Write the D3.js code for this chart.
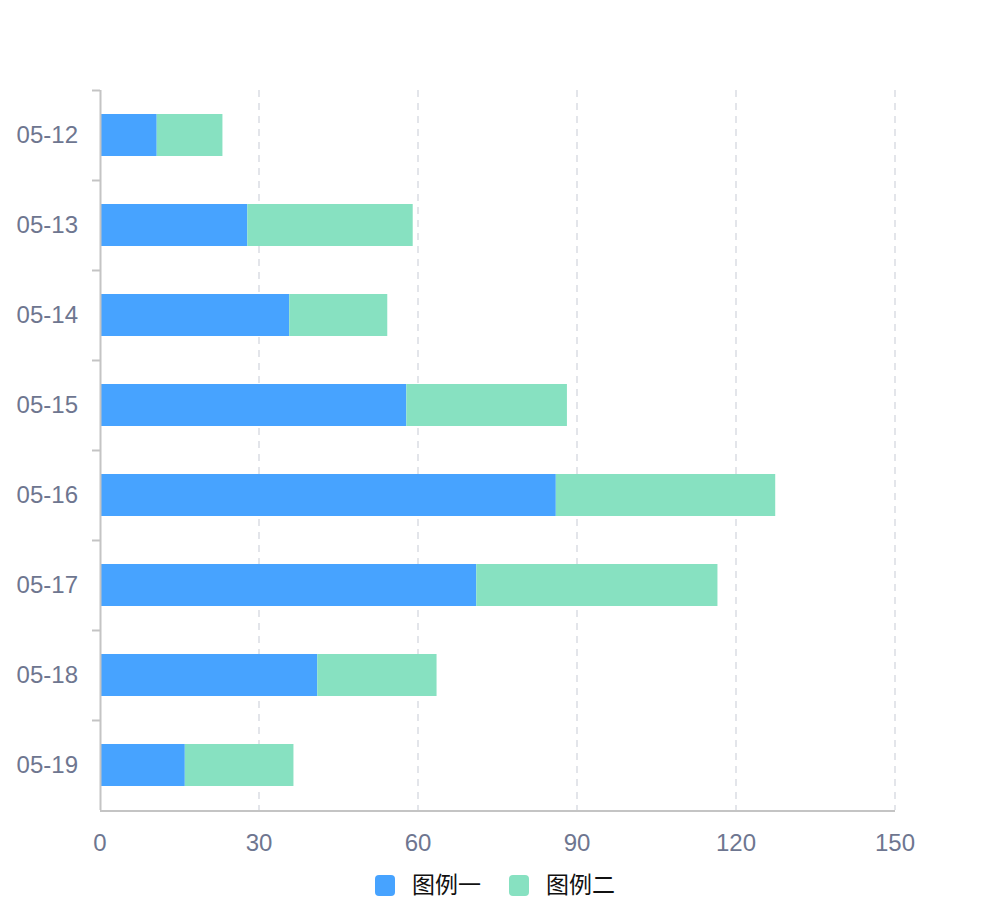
<!DOCTYPE html>
<meta charset="utf-8">
<head>
    <title>Stacked bars</title>
    <script src="https://d3js.org/d3.v7.min.js"></script>
    <style>
        body { margin: 0; background: #ffffff; }
    </style>
</head>
<body>
<svg width="994" height="900"></svg>
<script>
// chart data
var days = ["05-12", "05-13", "05-14", "05-15", "05-16", "05-17", "05-18", "05-19"];
var seriesOne = [10.7, 27.8, 35.7, 57.8, 86, 71, 41, 16];
var seriesTwo = [12.4, 31.2, 18.5, 30.3, 41.4, 45.5, 22.5, 20.5];
var seriesNames = ["图例一", "图例二"];
var xTicks = [0, 30, 60, 90, 120, 150];

var svg = d3.select("svg"),
    margin = {top: 90, right: 99, bottom: 90, left: 100},
    width = +svg.attr("width") - margin.left - margin.right,
    height = +svg.attr("height") - margin.top - margin.bottom,
    g = svg.append("g").attr("transform", "translate(" + margin.left + "," + margin.top + ")");

var labelFont = "'Liberation Sans', Arial, Helvetica, sans-serif";
var labelColor = "#6e7690";
var colors = ["#47a3ff", "#87e1c1"];

var rows = days.map(function(d, i) {
    return {day: d, a: seriesOne[i], b: seriesTwo[i]};
});
var stacked = d3.stack().keys(["a", "b"])(rows);

var x = d3.scaleLinear().domain([0, 150]).range([0, width]);
var y = d3.scaleBand()
    .domain(days)
    .range([0, height])
    .paddingInner(0.5333)
    .paddingOuter(0.2667);
var step = y.step();

// dashed grid
g.append("g")
    .selectAll("line")
    .data(xTicks.filter(function(t) { return t > 0; }))
    .enter().append("line")
    .attr("x1", function(d) { return x(d); })
    .attr("x2", function(d) { return x(d); })
    .attr("y1", 0)
    .attr("y2", height)
    .attr("stroke", "#e3e5ea")
    .attr("stroke-width", 2)
    .attr("stroke-dasharray", "7,6");

// bars
g.append("g")
    .selectAll("g")
    .data(stacked)
    .enter().append("g")
    .attr("fill", function(d, i) { return colors[i]; })
    .selectAll("rect")
    .data(function(d) { return d; })
    .enter().append("rect")
    .attr("x", function(d) { return x(d[0]); })
    .attr("width", function(d) { return x(d[1]) - x(d[0]); })
    .attr("y", function(d) { return y(d.data.day); })
    .attr("height", y.bandwidth());

// y axis: line, ticks on band boundaries, labels
var yAxis = g.append("g");
yAxis.append("line")
    .attr("x1", 0.5).attr("x2", 0.5)
    .attr("y1", 0).attr("y2", height)
    .attr("stroke", "#c4c4c4")
    .attr("stroke-width", 2);
yAxis.selectAll("line.tick")
    .data(days)
    .enter().append("line")
    .attr("class", "tick")
    .attr("x1", -8).attr("x2", 0)
    .attr("y1", function(d, i) { return i * step + 0.5; })
    .attr("y2", function(d, i) { return i * step + 0.5; })
    .attr("stroke", "#c4c4c4")
    .attr("stroke-width", 2);
yAxis.selectAll("text")
    .data(days)
    .enter().append("text")
    .attr("x", -22)
    .attr("y", function(d) { return y(d) + y.bandwidth() / 2; })
    .attr("dy", "0.35em")
    .attr("text-anchor", "end")
    .attr("font-family", labelFont)
    .attr("font-size", 24)
    .attr("fill", labelColor)
    .text(function(d) { return d; });

// x axis
var xAxis = g.append("g").attr("transform", "translate(0," + height + ")");
xAxis.append("line")
    .attr("x1", 0).attr("x2", width)
    .attr("y1", 1).attr("y2", 1)
    .attr("stroke", "#c4c4c4")
    .attr("stroke-width", 2);
xAxis.selectAll("text")
    .data(xTicks)
    .enter().append("text")
    .attr("x", function(d) { return x(d); })
    .attr("y", 33)
    .attr("dy", "0.35em")
    .attr("text-anchor", "middle")
    .attr("font-family", labelFont)
    .attr("font-size", 24)
    .attr("fill", labelColor)
    .text(function(d) { return d; });

// legend
var legend = svg.append("g")
    .selectAll("g")
    .data(seriesNames)
    .enter().append("g")
    .attr("transform", function(d, i) { return "translate(" + (375 + i * 134) + ",875)"; });

legend.append("rect")
    .attr("width", 20)
    .attr("height", 21)
    .attr("rx", 4)
    .attr("fill", function(d, i) { return colors[i]; });

legend.append("text")
    .attr("x", 37)
    .attr("y", 10)
    .attr("dy", "0.35em")
    .attr("font-family", "'Noto Sans CJK SC', sans-serif")
    .attr("font-size", 23)
    .attr("fill", "#111")
    .text(function(d) { return d; });
</script>
</body>
